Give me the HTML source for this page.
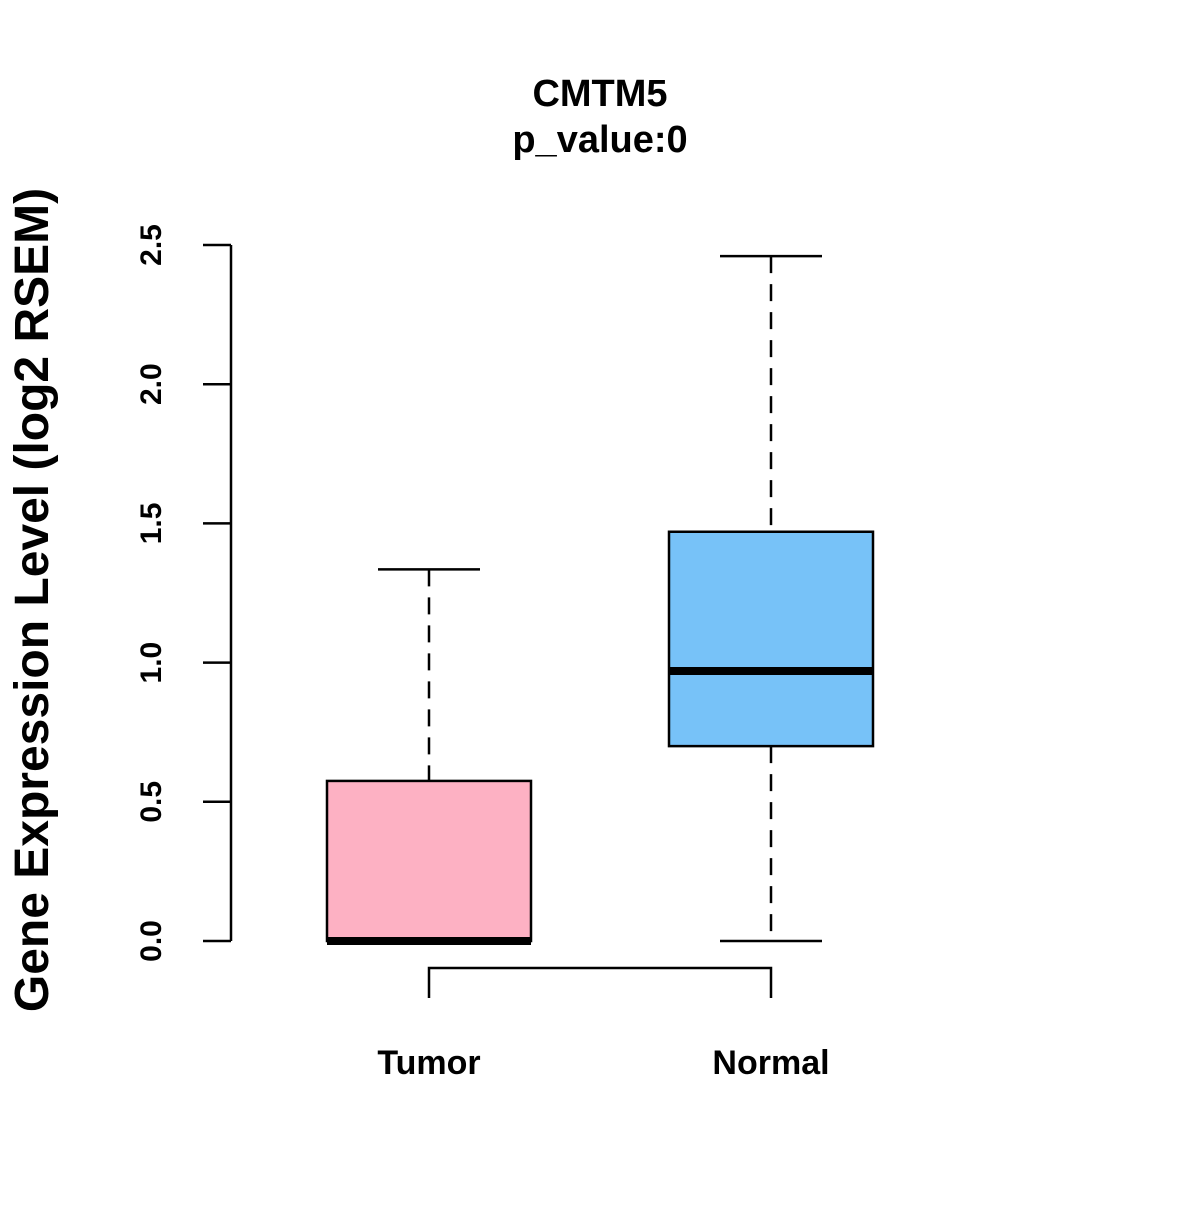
<!DOCTYPE html>
<html><head><meta charset="utf-8"><style>
html,body{margin:0;padding:0;background:#fff;}
svg text{font-family:"Liberation Sans",Arial,sans-serif;font-weight:bold;fill:#000;}
</style></head><body>
<svg id="chart" width="1200" height="1200" viewBox="0 0 1200 1200">
<text x="600" y="106" text-anchor="middle" font-size="38">CMTM5</text>
<text x="600" y="152" text-anchor="middle" font-size="38">p_value:0</text>
<text transform="translate(48,600) rotate(-90)" text-anchor="middle" font-size="48">Gene Expression Level (log2 RSEM)</text>
<g id="axis"></g>
<g id="boxes"></g>
</svg>
<script>
const categories = ["Tumor", "Normal"];
const lowerWhisker = [0, 0];
const q1 = [0, 0.70];
const medians = [0, 0.97];
const q3 = [0.575, 1.47];
const upperWhisker = [1.335, 2.46];
const colors = ["#FDB1C3", "#77C2F8"];
const yTicks = [0, 0.5, 1, 1.5, 2, 2.5];
const yTickLabels = ["0.0", "0.5", "1.0", "1.5", "2.0", "2.5"];

const NS = "http://www.w3.org/2000/svg";
function y(v){ return 941 - v * 278.4; }
function x(i){ return 429 + i * 342; }
function mk(tag, attrs, parent){
  const e = document.createElementNS(NS, tag);
  for (const k in attrs) e.setAttribute(k, attrs[k]);
  parent.appendChild(e);
  return e;
}
const axis = document.getElementById("axis");
const boxes = document.getElementById("boxes");
const line = mk("line", {x1:231, x2:231, y1:y(yTicks[yTicks.length-1]), y2:y(yTicks[0]), stroke:"#000", "stroke-width":2.5}, axis);


yTicks.forEach((t, i) => {
  const tk = mk("line", {x1:203, x2:231, y1:y(t), y2:y(t), stroke:"#000", "stroke-width":2.5}, axis);
  
  
  const lb = mk("text", {transform:`translate(161,${y(t)}) rotate(-90)`, "text-anchor":"middle", "font-size":30}, axis);
  lb.textContent = yTickLabels[i];
  
  
});
const hw = 102, cw = 51;
categories.forEach((c, i) => {
  const cx = x(i);
  const g = mk("g", {}, boxes);
  
  
  mk("line", {x1:cx, x2:cx, y1:y(upperWhisker[i]), y2:y(q3[i]), stroke:"#000", "stroke-width":2.5, "stroke-dasharray":"17,11"}, g);
  mk("line", {x1:cx, x2:cx, y1:y(q1[i]), y2:y(lowerWhisker[i]), stroke:"#000", "stroke-width":2.5, "stroke-dasharray":"17,11"}, g);
  mk("line", {x1:cx-cw, x2:cx+cw, y1:y(upperWhisker[i]), y2:y(upperWhisker[i]), stroke:"#000", "stroke-width":2.5}, g);
  mk("line", {x1:cx-cw, x2:cx+cw, y1:y(lowerWhisker[i]), y2:y(lowerWhisker[i]), stroke:"#000", "stroke-width":2.5}, g);
  mk("rect", {x:cx-hw, y:y(q3[i]), width:hw*2, height:Math.max(y(q1[i])-y(q3[i]),0), fill:colors[i], stroke:"#000", "stroke-width":2.5}, g);
  mk("line", {x1:cx-hw, x2:cx+hw, y1:y(medians[i]), y2:y(medians[i]), stroke:"#000", "stroke-width":8}, g);
  const lb = mk("text", {x:cx, y:1074, "text-anchor":"middle", "font-size":34}, boxes);
  lb.textContent = c;
  
  
});
const br = mk("path", {d:`M${x(0)},998 V968 H${x(1)} V998`, fill:"none", stroke:"#000", "stroke-width":2.5}, boxes);


</script>
</body></html>
